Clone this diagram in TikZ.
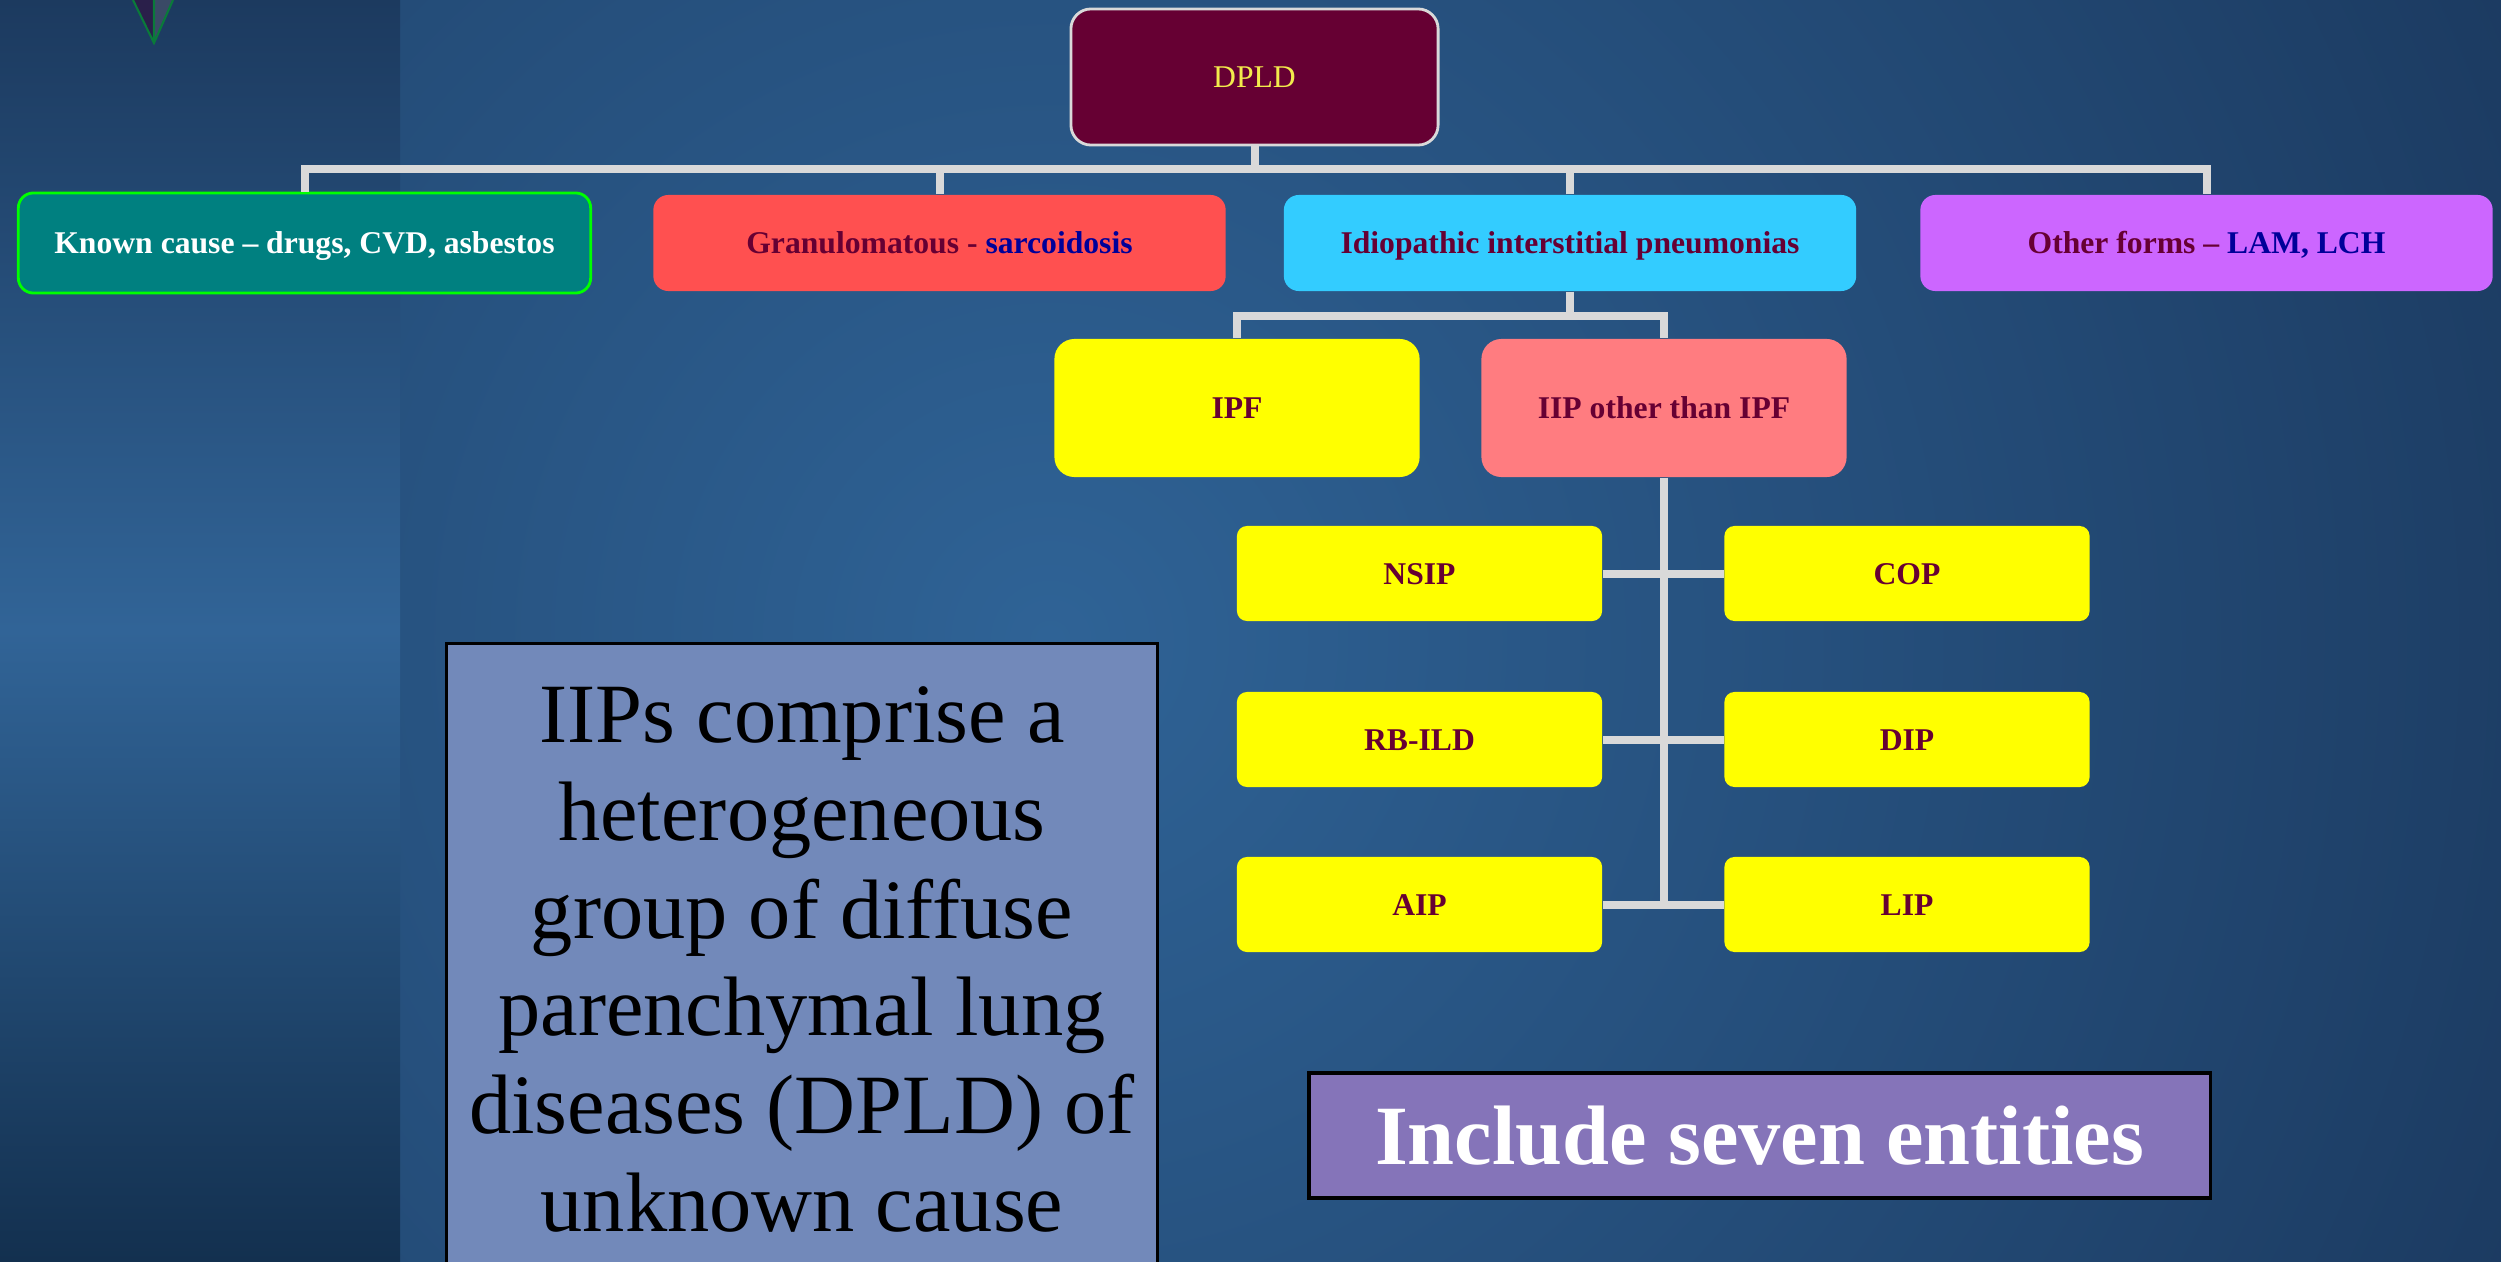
\documentclass[tikz,border=0pt]{standalone}
\usepackage{fontspec}
\setmainfont{Liberation Serif}
\usepackage{xcolor}
\usepackage{tikz}
\usetikzlibrary{shapes}
\definecolor{maroon}{HTML}{660033}
\definecolor{navytext}{HTML}{000099}
\definecolor{connector}{HTML}{D9D9D9}
\definecolor{dpldtext}{HTML}{F2EB4C}
\definecolor{knownfill}{HTML}{008080}
\definecolor{knownedge}{HTML}{00FF00}
\definecolor{granfill}{HTML}{FF5050}
\definecolor{iipfill}{HTML}{33CCFF}
\definecolor{otherfill}{HTML}{CC66FF}
\definecolor{salmon}{HTML}{FF7C80}
\definecolor{leafyellow}{HTML}{FFFF00}
\definecolor{notefill}{HTML}{7289BA}
\definecolor{bannerfill}{HTML}{8574B9}
\definecolor{bglight}{HTML}{2F6396}
\definecolor{bgdark}{HTML}{13294A}
\definecolor{striptop}{HTML}{1C3A5F}
\definecolor{stripmid}{HTML}{316497}
\definecolor{stripbot}{HTML}{13304F}
\definecolor{logopurple}{HTML}{2A1F4A}
\definecolor{logogray}{HTML}{3A4A66}
\definecolor{logogreen}{HTML}{0A7A3A}
\tikzstyle{root}=[rectangle,rounded corners=0.2cm,fill=maroon,draw=connector,line width=0.8pt,text=dpldtext,font=\fontsize{9}{11}\selectfont,minimum width=3.67cm,minimum height=1.36cm]
\tikzstyle{box}=[rectangle,rounded corners=0.15cm,text=maroon,font=\fontsize{9}{11}\selectfont\bfseries,text height=6pt,text depth=0pt,minimum width=5.72cm,minimum height=0.96cm]
\tikzstyle{mid}=[box,rounded corners=0.2cm,minimum width=3.65cm,minimum height=1.38cm]
\tikzstyle{leaf}=[box,fill=leafyellow,rounded corners=0.1cm,minimum width=3.65cm,minimum height=0.95cm]
\tikzstyle{note}=[rectangle,fill=notefill,draw=black,line width=0.8pt,align=center,font=\fontsize{24}{27.8}\selectfont,minimum width=7.1cm,minimum height=6.31cm]
\tikzstyle{banner}=[rectangle,fill=bannerfill,draw=black,line width=1pt,text=white,font=\fontsize{24}{28}\selectfont\bfseries,minimum width=9.01cm,minimum height=1.25cm]
\tikzstyle{link}=[draw=connector,line width=0.08cm]

\begin{document}
\begin{tikzpicture}[x=0.01cm,y=-0.01cm]
        \useasboundingbox (0,0) rectangle (2501,1261);
        \begin{scope}
          \clip (400,0) rectangle (2501,1261);
          \fill [bgdark] (400,0) rectangle (2501,1261);
          \shade [inner color=bglight,outer color=bgdark] (1050,640) circle (23cm);
        \end{scope}
        \shade [top color=striptop,bottom color=stripbot,middle color=stripmid] (0,0) rectangle (400,1261);

        \fill [logopurple] (133,0) -- (154,0) -- (154,43) -- cycle;
        \fill [logogray] (154,0) -- (173,0) -- (154,43) -- cycle;
        \draw [logogreen,line width=0.6pt] (133,0) -- (154,43) -- (173,0) (154,0) -- (154,43);

        \node at (1254.5,77) [root] (dpld) {DPLD};

        \node at (304.5,243) [box,fill=knownfill,draw=knownedge,line width=0.8pt,text=white,minimum height=1cm] (known) {Known cause – drugs, CVD, asbestos};
        \node at (939.5,243) [box,fill=granfill] (gran) {Granulomatous - \textcolor{navytext}{sarcoidosis}};
        \node at (1570,243) [box,fill=iipfill] (iip) {Idiopathic interstitial pneumonias};
        \node at (2206.5,243) [box,fill=otherfill] (other) {Other forms – \textcolor{navytext}{LAM, LCH}};

        \node at (1237,408) [mid,fill=leafyellow] (ipf) {IPF};
        \node at (1664,408) [mid,fill=salmon] (iipother) {IIP other than IPF};

        \node at (1419.5,573.5) [leaf] (nsip) {NSIP};
        \node at (1907,573.5)   [leaf] (cop) {COP};
        \node at (1419.5,739.5) [leaf] (rbild) {RB-ILD};
        \node at (1907,739.5)   [leaf] (dip) {DIP};
        \node at (1419.5,904.5) [leaf] (aip) {AIP};
        \node at (1907,904.5)   [leaf] (lip) {LIP};

        \node at (802,959.5) [note] (iips) {IIPs comprise a\\heterogeneous\\group of diffuse\\parenchymal lung\\diseases (DPLD) of\\unknown cause};
        \node at (1759.5,1135.5) [banner] (seven) {Include seven entities};

        \coordinate (tier1) at (1256,169);
        \coordinate (tier2) at (1570,316);

        \draw [link] (dpld.south) -- (dpld.south |- tier1);
        \draw [link] (known.north) |- (tier1) -| (other.north);
        \draw [link] (gran.north) -- (gran.north |- tier1);
        \draw [link] (iip.north) -- (iip.north |- tier1);
        \draw [link] (iip.south) -- (tier2);
        \draw [link] (ipf.north) |- (tier2) -| (iipother.north);
        \draw [link] (iipother.south) -- (iipother.south |- aip.east);
        \draw [link] (nsip) -- (cop);
        \draw [link] (rbild) -- (dip);
        \draw [link] (aip) -- (lip);
      \end{tikzpicture}
\end{document}
